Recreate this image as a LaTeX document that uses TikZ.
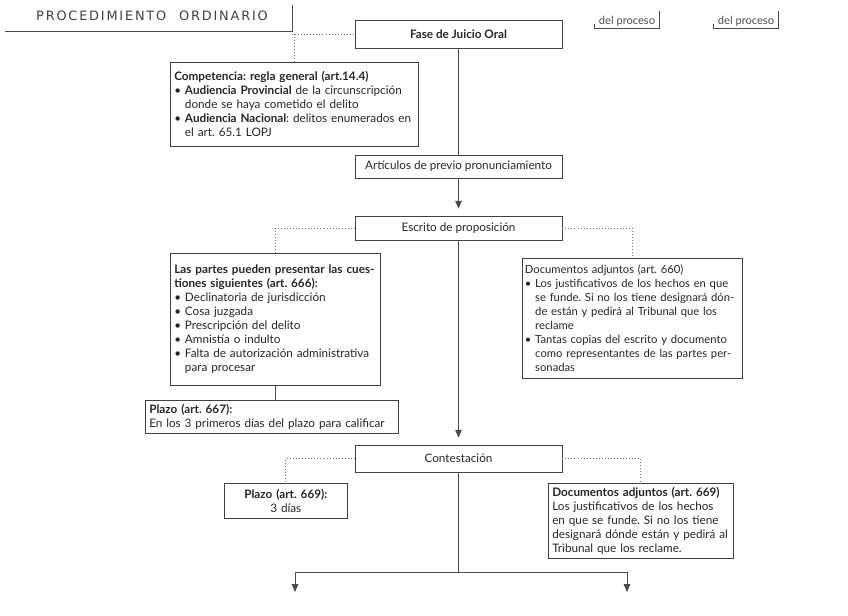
\documentclass[tikz,border=0pt]{standalone}
\usepackage{fontspec}
\setmainfont{Lato}
\newfontfamily\manofont[LetterSpace=14]{DejaVu Sans}
\usetikzlibrary{arrows, calc}
\frenchspacing

\begin{document}
\begin{tikzpicture}[x=0.03cm, y=-0.03cm,
    caja/.style={draw=black!75, line width=0.5pt, inner sep=0.12cm, text=black!85,
        font=\fontsize{10}{11.9}\selectfont, align=left},
    central/.style={caja, align=center, minimum width=6.21cm},
    linea/.style={draw=black!70, line width=0.5pt},
    punteado/.style={draw=black!55, dotted, line width=0.6pt},
    flecha/.style={linea, -triangle 45, shorten >=6pt}]
    \useasboundingbox (0,0) rectangle (848,615);

    % titulo a mano
    \node[text=black!75, font=\manofont\fontsize{11}{12}\selectfont] (titulo) at (152,16) {PROCEDIMIENTO\quad ORDINARIO};
    \coordinate (esquina) at (292,31);
    \draw[linea] (5,31) -- (esquina) -- (292,5);

    % columna central
    \node[central, minimum height=0.84cm] (fase) at (458.5,34) {\textbf{Fase de Juicio Oral}};
    \node[central, minimum height=0.69cm] (artic) at (458.5,166.5) {Artículos de previo pronunciamiento};
    \node[central, minimum height=0.72cm] (escrito) at (458.5,228) {Escrito de proposición};
    \node[central, minimum height=0.81cm] (contest) at (458.5,458.5) {Contestación};

    \foreach \x/\n in {627/proc1, 746/proc2} {
        \node[text=black!70, font=\fontsize{9.5}{10}\selectfont, inner sep=2pt] (\n) at (\x,21) {del proceso};
        \draw[linea] ($(\n.north east)+(2,-2)$) -- ($(\n.south east)+(2,0)$) -- ($(\n.south west)+(-2,0)$) -- ++(0,-5);
    }

    % cajas laterales
    \node[caja, anchor=north west, text width=7.2cm, minimum height=2.52cm] (comp) at (170,62) {%
        \textbf{Competencia: regla general (art.14.4)}\\
        \textbullet\ \textbf{Audiencia Provincial} de la circunscripción\\
        \phantom{\textbullet\ }donde se haya cometido el delito\\
        \textbullet\ \textbf{Audiencia Nacional}: delitos enumerados en\\
        \phantom{\textbullet\ }el art. 65.1 LOPJ};

    \node[caja, anchor=north west, text width=6.06cm, minimum height=3.96cm] (partes) at (170,253) {%
        \textbf{Las partes pueden presentar las cues-}\\
        \textbf{tiones siguientes (art. 666):}\\
        \textbullet\ Declinatoria de jurisdicción\\
        \textbullet\ Cosa juzgada\\
        \textbullet\ Prescripción del delito\\
        \textbullet\ Amnistía o indulto\\
        \textbullet\ Falta de autorización administrativa\\
        \phantom{\textbullet\ }para procesar};

    \node[caja, anchor=north west, inner xsep=0.08cm, text width=6.44cm, minimum height=3.6cm,
        font=\fontsize{9.6}{11.9}\selectfont] (docs) at (522,258) {%
        Documentos adjuntos (art. 660)\\
        \textbullet\ Los justificativos de los hechos en que\\
        \phantom{\textbullet\ }se funde. Si no los tiene designará dón-\\
        \phantom{\textbullet\ }de están y pedirá al Tribunal que los\\
        \phantom{\textbullet\ }reclame\\
        \textbullet\ Tantas copias del escrito y documento\\
        \phantom{\textbullet\ }como representantes de las partes per-\\
        \phantom{\textbullet\ }sonadas};

    \node[caja, anchor=north west, text width=7.35cm, minimum height=0.9cm] (plazoa) at (145,400) {%
        \textbf{Plazo (art. 667):}\\
        En los 3 primeros días del plazo para calificar};

    \node[caja, anchor=north west, align=center, text width=3.45cm, minimum height=1.05cm] (plazob) at (224,483) {%
        \textbf{Plazo (art. 669):}\\
        3 días};

    \node[caja, anchor=north west, text width=5.31cm, minimum height=2.19cm] (docsb) at (548,483) {%
        \textbf{Documentos adjuntos (art. 669)}\\
        Los justificativos de los hechos\\
        en que se funde. Si no los tiene\\
        designará dónde están y pedirá al\\
        Tribunal que los reclame.};

    % conectores
    \draw[linea] (fase) -- (artic);
    \draw[flecha] (artic) -- (escrito);
    \draw[flecha] (escrito) -- (contest);
    \draw[punteado] (esquina |- fase.west) -- (fase.west);
    \draw[punteado] (comp.north |- fase.west) -- (comp.north);
    \draw[punteado] (escrito.west) -| (partes.north);
    \draw[punteado] (escrito.east) -| (docs.north);
    \draw[linea] (partes.south) -- (partes.south |- plazoa.north);
    \draw[punteado] (contest.west) -| (plazob.north);
    \draw[punteado] (contest.east) -| (docsb.north);

    \coordinate (reparto) at (458.5,572);
    \coordinate (izq) at (295,592);
    \coordinate (der) at (627,592);
    \draw[linea] (contest) -- (reparto);
    \foreach \c in {izq, der} {
        \draw[linea, -triangle 45] (reparto) -| (\c);
    }
\end{tikzpicture}
\end{document}
